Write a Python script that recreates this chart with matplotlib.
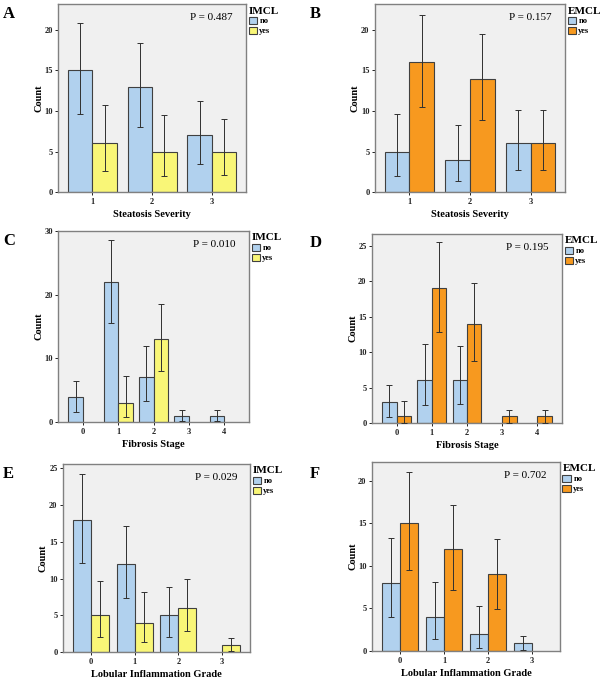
import numpy as np
import matplotlib
matplotlib.use('Agg')
import matplotlib.pyplot as plt
from matplotlib.patches import Patch

plt.rcParams['font.family'] = 'Liberation Serif'

# Steatosis severity (A: IMCL, B: EMCL)
steatosis_cats = ['1', '2', '3']
a_no = [15, 13, 7]
a_no_lo = [9.6, 8.0, 3.5]
a_no_hi = [20.8, 18.4, 11.2]
a_yes = [6, 5, 5]
a_yes_lo = [2.6, 2.0, 2.1]
a_yes_hi = [10.8, 9.5, 9.0]

b_no = [5, 4, 6]
b_no_lo = [2.0, 1.4, 2.75]
b_no_hi = [9.6, 8.3, 10.1]
b_yes = [16, 14, 6]
b_yes_lo = [10.5, 8.9, 2.75]
b_yes_hi = [21.9, 19.5, 10.1]

# Fibrosis stage (C: IMCL, D: EMCL)
fibrosis_cats = ['0', '1', '2', '3', '4']
c_no = [4, 22, 7, 1, 1]
c_no_lo = [1.6, 15.5, 3.3, 0.1, 0.1]
c_no_hi = [6.4, 28.6, 11.9, 1.9, 1.9]
c_yes = [0, 3, 13, 0, 0]
c_yes_lo = [np.nan, 0.8, 8.0, np.nan, np.nan]
c_yes_hi = [np.nan, 7.2, 18.6, np.nan, np.nan]

d_no = [3, 6, 6, 0, 0]
d_no_lo = [0.9, 2.6, 2.7, np.nan, np.nan]
d_no_hi = [5.3, 11.1, 10.8, np.nan, np.nan]
d_yes = [1, 19, 14, 1, 1]
d_yes_lo = [0.05, 12.9, 8.8, 0.05, 0.05]
d_yes_hi = [3.1, 25.6, 19.7, 1.9, 1.9]

# Lobular inflammation grade (E: IMCL, F: EMCL)
lobular_cats = ['0', '1', '2', '3']
e_no = [18, 12, 5, 0]
e_no_lo = [12.1, 7.3, 2.1, np.nan]
e_no_hi = [24.3, 17.1, 8.9, np.nan]
e_yes = [5, 4, 6, 1]
e_yes_lo = [2.0, 1.4, 2.8, 0.1]
e_yes_hi = [9.7, 8.2, 10.0, 1.9]

f_no = [8, 4, 2, 1]
f_no_lo = [4.0, 1.4, 0.4, 0.1]
f_no_hi = [13.3, 8.1, 5.3, 1.8]
f_yes = [15, 12, 9, 0]
f_yes_lo = [9.5, 7.2, 4.9, np.nan]
f_yes_hi = [21.0, 17.1, 13.2, np.nan]

blue = '#B1D1EE'
yellow = '#F9F677'
orange = '#F7991F'
edge = '#404040'

panels = [
    # letter, rect, letter top (px), cats, no, no_lo, no_hi, yes, yes_lo, yes_hi, group, yes colour, xlabel, p, ymax, yticks
    ('A', [0.097, 0.7176, 0.313, 0.2765], 8, steatosis_cats, a_no, a_no_lo, a_no_hi,
     a_yes, a_yes_lo, a_yes_hi, 'IMCL', yellow, 'Steatosis Severity', 'P = 0.487', 23.2, [0, 5, 10, 15, 20]),
    ('B', [0.625, 0.7176, 0.3167, 0.2765], 8, steatosis_cats, b_no, b_no_lo, b_no_hi,
     b_yes, b_yes_lo, b_yes_hi, 'EMCL', orange, 'Steatosis Severity', 'P = 0.157', 23.2, [0, 5, 10, 15, 20]),
    ('C', [0.097, 0.3794, 0.318, 0.281], 235, fibrosis_cats, c_no, c_no_lo, c_no_hi,
     c_yes, c_yes_lo, c_yes_hi, 'IMCL', yellow, 'Fibrosis Stage', 'P = 0.010', 30, [0, 10, 20, 30]),
    ('D', [0.62, 0.378, 0.3167, 0.278], 237, fibrosis_cats, d_no, d_no_lo, d_no_hi,
     d_yes, d_yes_lo, d_yes_hi, 'EMCL', orange, 'Fibrosis Stage', 'P = 0.195', 26.7, [0, 5, 10, 15, 20, 25]),
    ('E', [0.105, 0.0412, 0.3117, 0.2765], 468, lobular_cats, e_no, e_no_lo, e_no_hi,
     e_yes, e_yes_lo, e_yes_hi, 'IMCL', yellow, 'Lobular Inflammation Grade', 'P = 0.029', 25.6, [0, 5, 10, 15, 20, 25]),
    ('F', [0.62, 0.0426, 0.3133, 0.278], 468, lobular_cats, f_no, f_no_lo, f_no_hi,
     f_yes, f_yes_lo, f_yes_hi, 'EMCL', orange, 'Lobular Inflammation Grade', 'P = 0.702', 22.2, [0, 5, 10, 15, 20]),
]

fig = plt.figure(figsize=(6, 6.8), dpi=100)
w = 0.41


def draw_group(ax, x, vals, lo, hi, color):
    vals = np.array(vals, dtype=float)
    lo = np.array(lo, dtype=float)
    hi = np.array(hi, dtype=float)
    m = vals > 0
    ax.bar(x[m], vals[m], width=w, color=color, edgecolor=edge, linewidth=0.8, zorder=2)
    ax.errorbar(x[m], vals[m], yerr=[vals[m] - lo[m], hi[m] - vals[m]], fmt='none',
                ecolor='#303030', elinewidth=0.7, capsize=2, capthick=0.7, zorder=3)


for (letter, rect, ltop, cats, no, no_lo, no_hi, yes, yes_lo, yes_hi, group, ycol,
     xlabel, ptext, ymax, yticks) in panels:
    ax = fig.add_axes(rect)
    ax.set_facecolor('#F0F0F0')
    x = np.arange(len(cats))
    draw_group(ax, x - w / 2, no, no_lo, no_hi, blue)
    draw_group(ax, x + w / 2, yes, yes_lo, yes_hi, ycol)
    n = len(cats)
    pad = {3: 0.57, 4: 0.64, 5: 0.7}[n]
    ax.set_xlim(-pad, n - 1 + pad)
    ax.set_ylim(0, ymax)
    ax.set_xticks(x)
    ax.set_xticklabels(cats)
    ax.set_yticks(yticks)
    ax.tick_params(labelsize=6, length=2.5, width=0.7, pad=1.5, colors='#222222')
    for lbl in ax.get_xticklabels() + ax.get_yticklabels():
        lbl.set_fontweight('bold')
    for s in ax.spines.values():
        s.set_color('#808080')
        s.set_linewidth(1.0)
    ax.set_xlabel(xlabel, fontsize=7.5, fontweight='bold', labelpad=3)
    ax.set_ylabel('Count', fontsize=7.5, fontweight='bold')
    ax.yaxis.set_label_coords(-15 / (rect[2] * 600), 0.5)
    ax.text(0.93, 0.93, ptext, transform=ax.transAxes, ha='right', va='center', fontsize=8)
    handles = [Patch(facecolor=blue, edgecolor=edge, linewidth=0.8, label='no'),
               Patch(facecolor=ycol, edgecolor=edge, linewidth=0.8, label='yes')]
    leg = ax.legend(handles=handles, title=group, loc='upper left', bbox_to_anchor=(1.0, 1.0),
                    frameon=False, fontsize=6, handlelength=1.0, handleheight=1.0,
                    handletextpad=0.3, labelspacing=0.15, borderaxespad=0.1, borderpad=0.2)
    leg.get_title().set_fontweight('bold')
    leg.get_title().set_fontsize(8)
    leg._legend_box.align = 'left'
    for t in leg.get_texts():
        t.set_fontweight('bold')
    # panel letter
    fx = 3 / 600 if rect[0] < 0.5 else 310 / 600
    fig.text(fx, 1 - (ltop - 2) / 680, letter, fontsize=12, fontweight='bold',
             ha='left', va='top')

fig.savefig('out.png', dpi=100)
